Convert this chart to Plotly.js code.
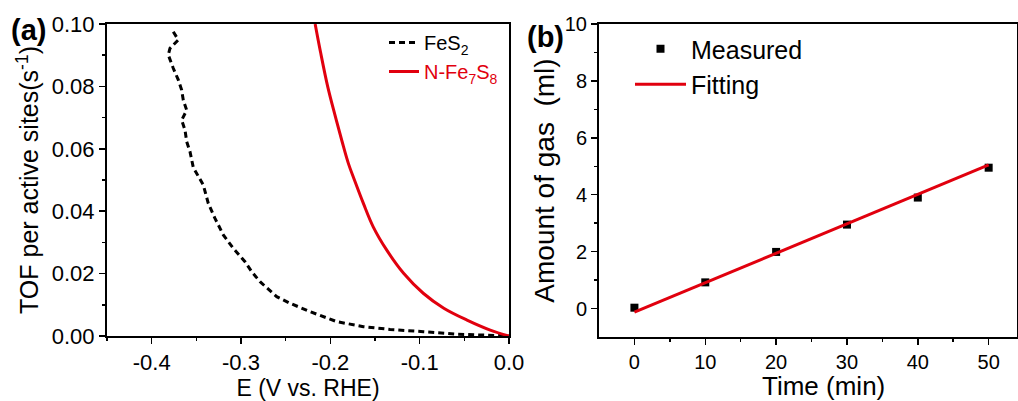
<!DOCTYPE html>
<html>
<head>
<meta charset="utf-8">
<script src="https://cdn.plot.ly/plotly-3.0.1.min.js"></script>
<style>html,body{margin:0;padding:0;background:#fff;}#chart{width:1018px;height:401px;}</style>
</head>
<body>
<div id="chart"></div>
<script>
// Panel (a): TOF vs potential
const fes2E   = [-0.3758, -0.3702, -0.3795, -0.3814, -0.3758, -0.3702, -0.3664, -0.3646, -0.3608, -0.3664, -0.3627, -0.3608, -0.3571, -0.3534, -0.3422, -0.3366, -0.3291, -0.3198, -0.3086, -0.2955, -0.2880, -0.2787, -0.2600, -0.2451, -0.2227, -0.1928, -0.1630, -0.1331, -0.0958, -0.0584, -0.0286, 0.0];
const fes2TOF = [0.0975, 0.0949, 0.0922, 0.0901, 0.0858, 0.0821, 0.0788, 0.0756, 0.0724, 0.0692, 0.0660, 0.0623, 0.0591, 0.0540, 0.0484, 0.0425, 0.0377, 0.0324, 0.0281, 0.0238, 0.0206, 0.0174, 0.0126, 0.0105, 0.0078, 0.0046, 0.0030, 0.0021, 0.0014, 0.0006, 0.0003, 0.0];
const nfeE    = [-0.217, -0.211, -0.203, -0.195, -0.187, -0.180, -0.173, -0.163, -0.152, -0.137, -0.118, -0.096, -0.073, -0.047, -0.021, 0.0];
const nfeTOF  = [0.100, 0.091, 0.080, 0.071, 0.0625, 0.0555, 0.0500, 0.0425, 0.0350, 0.0276, 0.0201, 0.0137, 0.0089, 0.0051, 0.0019, 0.0];
// Panel (b): gas evolution
const timeMin = [0, 10, 20, 30, 40, 50];
const gasMeas = [0.03, 0.92, 1.99, 2.95, 3.90, 4.95];
const fitTime = [0, 50];
const fitGas  = [-0.13, 5.05];
// tick labels
const xTicksA = ['-0.4', '-0.3', '-0.2', '-0.1', '0.0'];
const yTicksA = ['0.00', '0.02', '0.04', '0.06', '0.08', '0.10'];

const FONT = 'Arial, "Liberation Sans", sans-serif';
const RED = '#e1000e';

const traces = [
  {x: fes2E, y: fes2TOF, mode: 'lines', name: 'FeS<sub>2</sub>', xaxis: 'x', yaxis: 'y',
   line: {color: '#000', width: 3, dash: '6px,4px'}, legend: 'legend'},
  {x: nfeE, y: nfeTOF, mode: 'lines', name: '<span style="color:' + RED + '">N-Fe<sub>7</sub>S<sub>8</sub></span>', xaxis: 'x', yaxis: 'y',
   line: {color: RED, width: 3, shape: 'spline', smoothing: 1}, legend: 'legend'},
  {x: timeMin, y: gasMeas, mode: 'markers', name: 'Measured', xaxis: 'x2', yaxis: 'y2',
   marker: {symbol: 'square', size: 8, color: '#000'}, legend: 'legend2'},
  {x: fitTime, y: fitGas, mode: 'lines', name: 'Fitting', xaxis: 'x2', yaxis: 'y2',
   line: {color: RED, width: 3}, legend: 'legend2'}
];

const axBase = {
  showline: true, linecolor: '#000', linewidth: 2, mirror: true,
  ticks: 'outside', ticklen: 6, tickwidth: 1.5, tickcolor: '#000',
  showgrid: false, zeroline: false,
  minor: {ticks: 'outside', ticklen: 3, tickwidth: 1.5, tickcolor: '#000'}
};

const layout = {
  width: 1018, height: 401,
  margin: {l: 0, r: 0, t: 0, b: 0},
  paper_bgcolor: '#fff', plot_bgcolor: '#fff',
  font: {family: FONT, color: '#000'},
  xaxis: Object.assign({}, axBase, {
    domain: [107/1018, 509/1018], range: [-0.45, 0], anchor: 'y',
    tickvals: [-0.4, -0.3, -0.2, -0.1, 0.0], ticktext: xTicksA,
    minor: Object.assign({}, axBase.minor, {tickvals: [-0.45, -0.35, -0.25, -0.15, -0.05]}),
    tickfont: {size: 22}, title: {text: 'E (V vs. RHE)', font: {size: 23}, standoff: 8}
  }),
  yaxis: Object.assign({}, axBase, {
    domain: [1 - 336/401, 1 - 24/401], range: [0, 0.1], anchor: 'x',
    tickvals: [0, 0.02, 0.04, 0.06, 0.08, 0.10], ticktext: yTicksA,
    minor: Object.assign({}, axBase.minor, {tickvals: [0.01, 0.03, 0.05, 0.07, 0.09]}),
    tickfont: {size: 22}, title: {text: 'TOF per active sites(s<sup>-1</sup>)', font: {size: 25}, standoff: 6}
  }),
  xaxis2: Object.assign({}, axBase, {
    domain: [599/1018, 1017/1018], range: [-5, 54], anchor: 'y2',
    tickvals: [0, 10, 20, 30, 40, 50],
    minor: Object.assign({}, axBase.minor, {tickvals: [5, 15, 25, 35, 45]}),
    tickfont: {size: 20}
  }),
  yaxis2: Object.assign({}, axBase, {
    domain: [1 - 337/401, 1 - 24/401], range: [-1, 10], anchor: 'x2',
    tickvals: [0, 2, 4, 6, 8, 10],
    minor: Object.assign({}, axBase.minor, {tickvals: [1, 3, 5, 7, 9]}),
    tickfont: {size: 20}, title: {text: 'Amount of gas  (ml)', font: {size: 28}, standoff: 2}
  }),
  legend: {x: 384/1018, y: 1 - 23/401, xanchor: 'left', yanchor: 'top', bgcolor: 'rgba(0,0,0,0)',
    font: {size: 20}, tracegroupgap: 0, itemwidth: 30},
  legend2: {x: 630/1018, y: 1 - 26/401, xanchor: 'left', yanchor: 'top', bgcolor: 'rgba(0,0,0,0)',
    font: {size: 25}, tracegroupgap: 0, itemwidth: 51},
  showlegend: true,
  annotations: [
    {text: '<b>(a)</b>', xref: 'paper', yref: 'paper', x: 9/1018, y: 1 - 30/401, xanchor: 'left', yanchor: 'middle',
     showarrow: false, font: {size: 29, family: FONT}},
    {text: '<b>(b)</b>', xref: 'paper', yref: 'paper', x: 525/1018, y: 1 - 37/401, xanchor: 'left', yanchor: 'middle',
     showarrow: false, font: {size: 29, family: FONT}},
    {text: 'Time (min)', xref: 'paper', yref: 'paper', x: 823/1018, y: 1 - 386/401, xanchor: 'center', yanchor: 'middle',
     showarrow: false, font: {size: 26, family: FONT}, borderpad: 0}
  ]
};

Plotly.newPlot('chart', traces, layout, {displayModeBar: false, staticPlot: true});
</script>
</body>
</html>
